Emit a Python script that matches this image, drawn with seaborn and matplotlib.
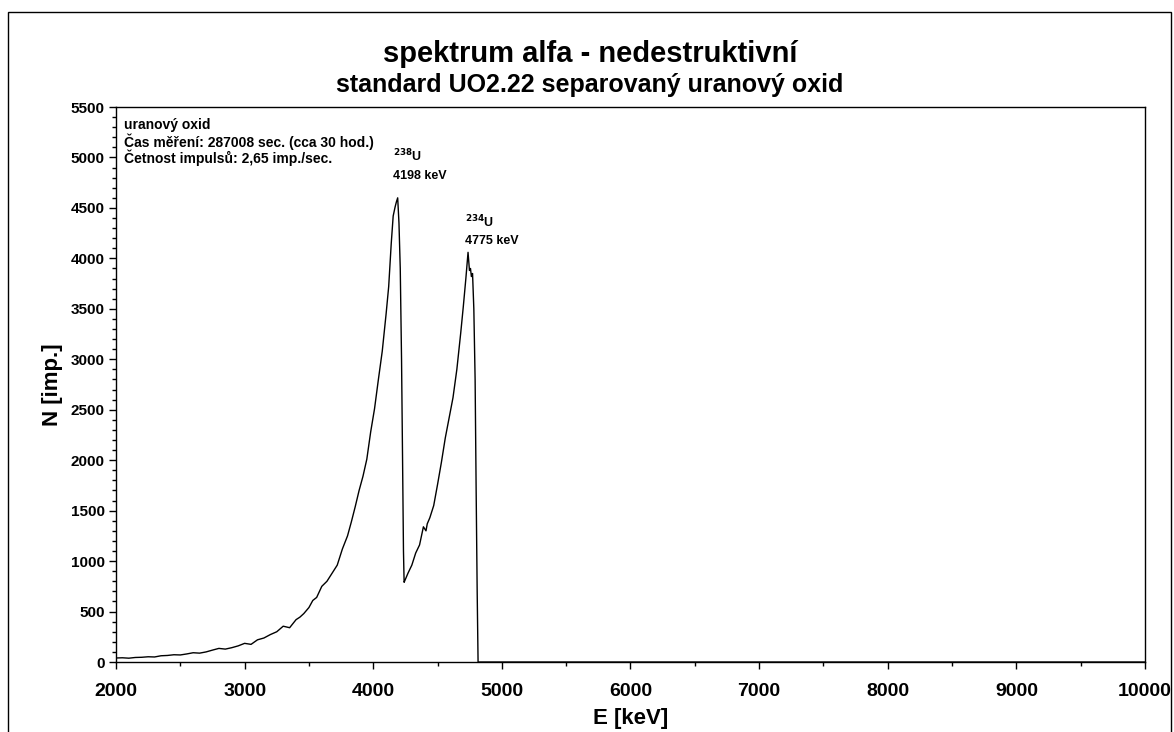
import matplotlib
matplotlib.use("Agg")
import matplotlib.pyplot as plt
import seaborn as sns
import pandas as pd
from matplotlib.ticker import MultipleLocator
from matplotlib.patches import Rectangle

# Data (energy in keV, counts)
energy = [2000, 2050, 2100, 2150, 2200, 2250, 2300, 2350, 2400, 2450,
          2500, 2550, 2600, 2650, 2700, 2750, 2800, 2850, 2900, 2950,
          3000, 3050, 3100, 3150, 3200, 3250, 3300, 3350, 3400, 3430,
          3460, 3500, 3530, 3560, 3600, 3640, 3680, 3720, 3760, 3800,
          3830, 3860, 3890, 3920, 3950, 3980, 4010, 4040, 4070, 4100,
          4120, 4140, 4155, 4170, 4180, 4190, 4200, 4210, 4220, 4228,
          4235, 4240, 4250, 4270, 4300, 4330, 4360, 4390, 4410, 4420,
          4440, 4470, 4500, 4530, 4560, 4590, 4620, 4650, 4680, 4700,
          4720, 4737, 4748, 4756, 4763, 4772, 4782, 4792, 4800, 4808,
          4815, 4830, 5000, 6000, 7000, 8000, 9000, 10000]
counts = [40, 42, 38, 45, 47, 52, 50, 62, 65, 72,
          70, 80, 92, 88, 100, 118, 135, 128, 142, 160,
          185, 175, 220, 238, 272, 300, 355, 340, 420, 445,
          480, 540, 610, 640, 750, 800, 880, 960, 1120, 1250,
          1390, 1540, 1700, 1840, 2010, 2280, 2510, 2800, 3080, 3450,
          3720, 4150, 4420, 4510, 4560, 4600, 4350, 3900, 3000, 2000,
          1100, 790, 820, 880, 960, 1080, 1160, 1340, 1300, 1370,
          1430, 1550, 1760, 1980, 2220, 2420, 2620, 2900, 3260, 3520,
          3800, 4060, 3880, 3900, 3820, 3850, 3500, 2800, 1700, 700,
          0, 0, 0, 0, 0, 0, 0, 0]

x_ticks = [2000, 3000, 4000, 5000, 6000, 7000, 8000, 9000, 10000]
y_ticks = [0, 500, 1000, 1500, 2000, 2500, 3000, 3500, 4000, 4500, 5000, 5500]

title = "spektrum alfa - nedestruktivní"
subtitle = "standard UO2.22 separovaný uranový oxid"
info_lines = ["uranový oxid",
              "Čas měření: 287008 sec. (cca 30 hod.)",
              "Četnost impulsů: 2,65 imp./sec."]

df = pd.DataFrame({"E": energy, "N": counts})

sns.set_style("ticks")
plt.rcParams['font.family'] = ['Liberation Sans', 'DejaVu Sans']
plt.rcParams['text.color'] = 'black'
plt.rcParams['axes.labelcolor'] = 'black'
plt.rcParams['xtick.color'] = 'black'
plt.rcParams['ytick.color'] = 'black'
plt.rcParams['axes.edgecolor'] = 'black'

fig = plt.figure(figsize=(11.74, 7.32), dpi=100)
ax = fig.add_axes([0.0988, 0.0956, 0.8765, 0.7582])

sns.lineplot(data=df, x="E", y="N", ax=ax, color="black", linewidth=1.0,
             sort=False, estimator=None)

ax.set_xlim(2000, 10000)
ax.set_ylim(0, 5500)
ax.set_xticks(x_ticks)
ax.set_yticks(y_ticks)
ax.xaxis.set_minor_locator(MultipleLocator(500))
ax.yaxis.set_minor_locator(MultipleLocator(100))
ax.tick_params(axis="x", which="major", direction="out", length=5, width=1,
               labelsize=14, pad=10)
ax.tick_params(axis="x", which="minor", direction="out", length=3, width=1)
ax.tick_params(axis="y", which="major", direction="out", length=5, width=1,
               labelsize=11, pad=3)
ax.tick_params(axis="y", which="minor", direction="out", length=3, width=1)
for lab in ax.get_xticklabels() + ax.get_yticklabels():
    lab.set_fontweight("bold")
for sp in ax.spines.values():
    sp.set_visible(True)
    sp.set_linewidth(1.0)
    sp.set_color("black")

ax.set_xlabel("E [keV]", fontsize=16, fontweight="bold", labelpad=6)
ax.set_ylabel("N [imp.]", fontsize=16, fontweight="bold", labelpad=6)

fig.text(0.5025, 0.926, title, ha="center", va="center",
         fontsize=21, fontweight="bold")
fig.text(0.5025, 0.884, subtitle, ha="center", va="center",
         fontsize=18, fontweight="bold")

for i, line in enumerate(info_lines):
    ax.text(0.0075, 0.968 - i * 0.030, line, transform=ax.transAxes,
            ha="left", va="center", fontsize=10, fontweight="bold")

ax.text(4150, 5010, r"$^{\mathbf{238}}$U", ha="left", va="center",
        fontsize=9, fontweight="bold")
ax.text(4150, 4820, "4198 keV", ha="left", va="center",
        fontsize=9, fontweight="bold")
ax.text(4715, 4360, r"$^{\mathbf{234}}$U", ha="left", va="center",
        fontsize=9, fontweight="bold")
ax.text(4715, 4170, "4775 keV", ha="left", va="center",
        fontsize=9, fontweight="bold")

border = Rectangle((8 / 1174, -0.01), (1171 - 8) / 1174, (732 - 12) / 732 + 0.01,
                   transform=fig.transFigure, fill=False, edgecolor="black",
                   linewidth=1.0, clip_on=False)
fig.patches.append(border)

fig.savefig("out.png", dpi=100, facecolor="white")
